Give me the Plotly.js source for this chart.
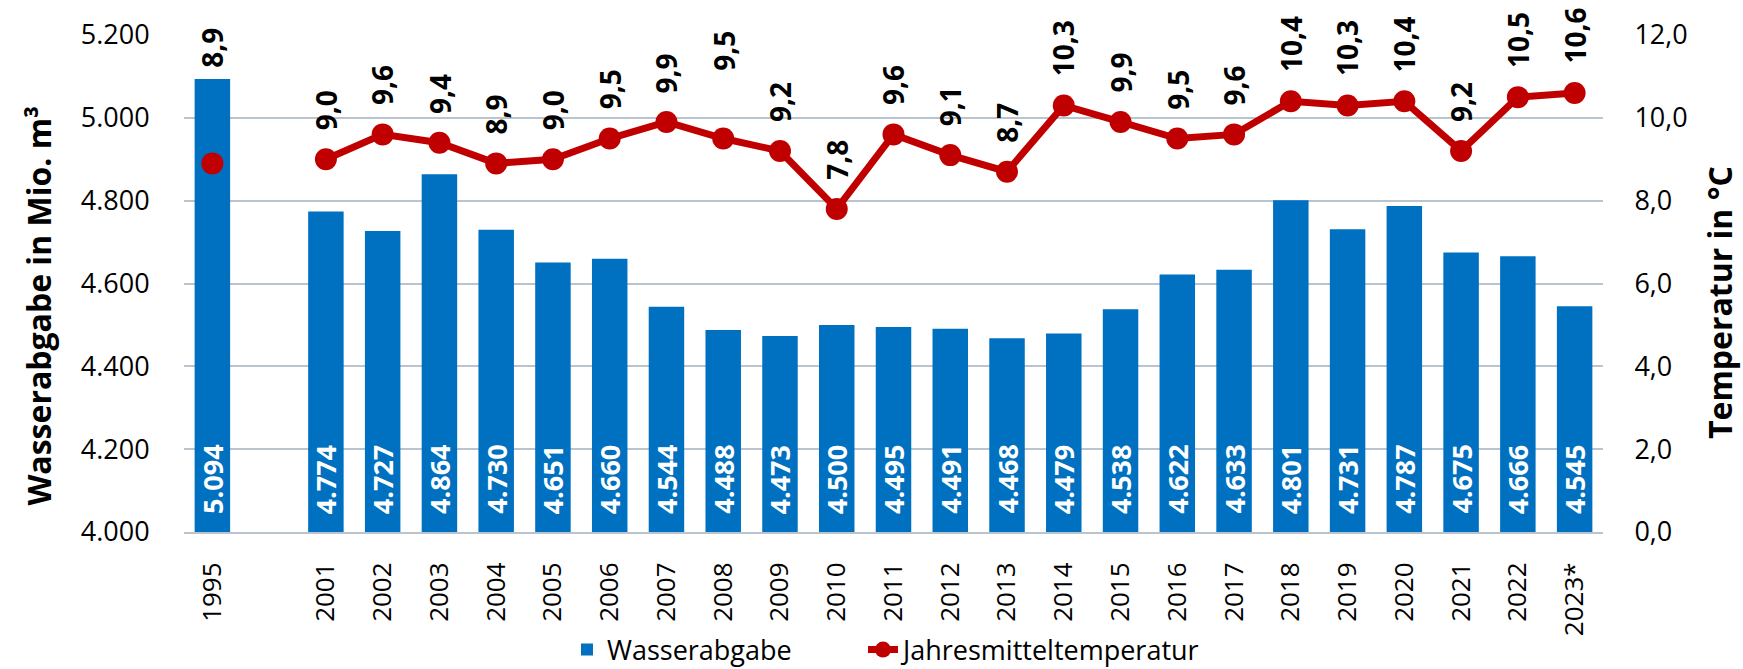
<!DOCTYPE html>
<html>
<head>
<meta charset="utf-8">
<script src="https://cdn.plot.ly/plotly-3.0.1.min.js"></script>
<style>html,body{margin:0;padding:0;background:#fff;}#chart{width:1743px;height:669px;}</style>
</head>
<body>
<div id="chart"></div>
<script>
// Categories (a blank slot separates 1995 from 2001)
const years = ['1995', ' ', '2001', '2002', '2003', '2004', '2005', '2006', '2007', '2008', '2009', '2010',
  '2011', '2012', '2013', '2014', '2015', '2016', '2017', '2018', '2019', '2020', '2021', '2022', '2023*'];
// Wasserabgabe in Mio. m³
const wasserabgabe = [5094, null, 4774, 4727, 4864, 4730, 4651, 4660, 4544, 4488, 4473, 4500,
  4495, 4491, 4468, 4479, 4538, 4622, 4633, 4801, 4731, 4787, 4675, 4666, 4545];
// Jahresmitteltemperatur in °C
const temperatur = [8.9, null, 9.0, 9.6, 9.4, 8.9, 9.0, 9.5, 9.9, 9.5, 9.2, 7.8,
  9.6, 9.1, 8.7, 10.3, 9.9, 9.5, 9.6, 10.4, 10.3, 10.4, 9.2, 10.5, 10.6];
const leftTicks = [4000, 4200, 4400, 4600, 4800, 5000, 5200];
const rightTicks = [0, 2, 4, 6, 8, 10, 12];
const leftTitle = 'Wasserabgabe in Mio. m³';
const rightTitle = 'Temperatur in °C';

const FONT = 'Open Sans, Arial, sans-serif';
const BLUE = '#0070C0';
const RED = '#C00000';
const GRID = '#B9C4CF';

// label offsets (px above the point); some labels were moved up in the original
const defaultShift = 27;
const extraShift = {'1995': 94, '2008': 66};

const fmtDE = (v, dec) => {
  let s = v.toFixed(dec);
  let [i, d] = s.split('.');
  i = i.replace(/\B(?=(\d{3})+(?!\d))/g, '.');
  return d ? i + ',' + d : i;
};

const annotations = [];
years.forEach((yr, i) => {
  if (wasserabgabe[i] != null) {
    annotations.push({
      x: i, y: leftTicks[0], xref: 'x', yref: 'y',
      text: fmtDE(wasserabgabe[i], 0), textangle: -90,
      showarrow: false, yanchor: 'bottom', xanchor: 'center', yshift: 16,
      font: {family: FONT, size: 27, color: '#ffffff', weight: 700}
    });
  }
  if (temperatur[i] != null) {
    annotations.push({
      x: i, y: temperatur[i], xref: 'x', yref: 'y2',
      text: fmtDE(temperatur[i], 1), textangle: -90,
      showarrow: false, yanchor: 'bottom', xanchor: 'center',
      yshift: extraShift[yr] != null ? extraShift[yr] : defaultShift,
      font: {family: FONT, size: 28, color: '#000000', weight: 700}
    });
  }
});
// axis titles
annotations.push({
  xref: 'paper', yref: 'paper', x: -0.1022, y: 0.4555, xanchor: 'center', yanchor: 'middle',
  text: leftTitle, textangle: -90, showarrow: false,
  font: {family: FONT, size: 32, color: '#000000', weight: 700}
});
annotations.push({
  xref: 'paper', yref: 'paper', x: 1.0825, y: 0.4608, xanchor: 'center', yanchor: 'middle',
  text: rightTitle, textangle: -90, showarrow: false,
  font: {family: FONT, size: 32, color: '#000000', weight: 700}
});

const traces = [
  {
    type: 'bar', name: 'Wasserabgabe', x: years, y: wasserabgabe,
    marker: {color: BLUE, line: {width: 0}},
    legend: 'legend', hoverinfo: 'skip'
  },
  {
    type: 'scatter', mode: 'lines+markers', name: 'Jahresmitteltemperatur',
    x: years, y: temperatur, yaxis: 'y2', connectgaps: false,
    line: {color: RED, width: 7},
    marker: {color: RED, size: 22},
    legend: 'legend2', hoverinfo: 'skip'
  }
];

const legendBase = {
  orientation: 'h', xanchor: 'left', xref: 'paper',
  y: 0.0284, yanchor: 'middle', yref: 'container',
  font: {family: FONT, size: 27, color: '#000000'}, itemwidth: 30,
  bgcolor: 'rgba(0,0,0,0)'
};

const layout = {
  width: 1743, height: 669,
  margin: {l: 184, r: 140, t: 35, b: 137},
  paper_bgcolor: '#ffffff', plot_bgcolor: '#ffffff',
  separators: ',.',
  font: {family: FONT, color: '#000000', size: 26},
  bargap: 0.375,
  showlegend: true,
  legend: Object.assign({}, legendBase, {x: 0.2699}),
  legend2: Object.assign({}, legendBase, {x: 0.4785}),
  xaxis: {
    type: 'category', categoryorder: 'array', categoryarray: years,
    range: [-0.5, years.length - 0.5],
    tickangle: -90, tickfont: {family: FONT, size: 26, color: '#000000'},
    ticks: 'outside', ticklen: 18, tickcolor: 'rgba(0,0,0,0)',
    showgrid: false, showline: true, linecolor: GRID, linewidth: 2, zeroline: false,
    automargin: false, fixedrange: true
  },
  yaxis: {
    range: [4000, 5200], tickvals: leftTicks, tickformat: ',d',
    tickfont: {family: FONT, size: 27, color: '#000000'},
    ticks: 'outside', ticklen: 28, tickcolor: 'rgba(0,0,0,0)',
    showgrid: true, gridcolor: GRID, gridwidth: 2, zeroline: false, showline: false,
    automargin: false, fixedrange: true
  },
  yaxis2: {
    range: [0, 12], tickvals: rightTicks, tickformat: '.1f',
    overlaying: 'y', side: 'right',
    tickfont: {family: FONT, size: 27, color: '#000000'},
    ticks: 'outside', ticklen: 25, tickcolor: 'rgba(0,0,0,0)',
    showgrid: false, zeroline: false, showline: false,
    automargin: false, fixedrange: true
  },
  annotations: annotations
};

Plotly.newPlot('chart', traces, layout, {displayModeBar: false, staticPlot: true});
</script>
</body>
</html>
